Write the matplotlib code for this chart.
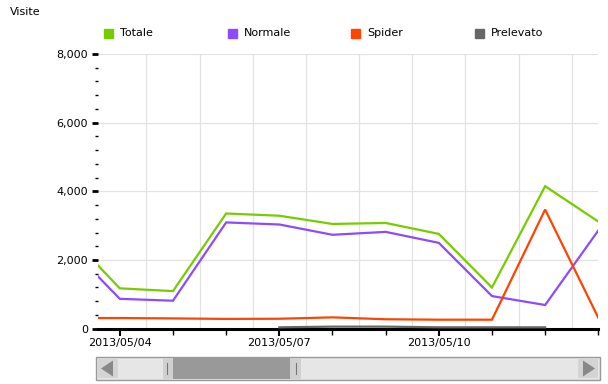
import datetime as dt
import numpy as np
import matplotlib
matplotlib.use("Agg")
import matplotlib.pyplot as plt
import matplotlib.dates as mdates
from matplotlib.patches import Rectangle, Polygon
from matplotlib.ticker import MultipleLocator, FuncFormatter

plt.rcParams['font.family'] = ['DejaVu Sans']

# ---- data ----
dates = ["2013-05-03", "2013-05-04", "2013-05-05", "2013-05-06", "2013-05-07",
         "2013-05-08", "2013-05-09", "2013-05-10", "2013-05-11", "2013-05-12",
         "2013-05-13"]
totale = [2800, 1175, 1095, 3355, 3290, 3050, 3080, 2760, 1200, 4150, 3120]
normale = [2460, 870, 815, 3095, 3035, 2735, 2820, 2500, 950, 690, 2860]
spider = [310, 310, 300, 285, 290, 330, 275, 262, 262, 3470, 320]
prelevato = [np.nan, np.nan, np.nan, np.nan, 40, 60, 60, 40, 40, 40, np.nan]
series_names = ["Totale", "Normale", "Spider", "Prelevato"]
series_colors = ["#77cc00", "#8c4bff", "#ff4400", "#666666"]
x_labels = ["2013/05/04", "2013/05/07", "2013/05/10"]
y_title = "Visite"

W, H = 608, 384
fig = plt.figure(figsize=(W / 100, H / 100), dpi=100)

# axes in pixel coords
left, right, top, bottom = 97.7, 598.3, 54, 328.7
ax = fig.add_axes([left / W, (H - bottom) / H, (right - left) / W, (bottom - top) / H])

xd = mdates.date2num([dt.datetime.strptime(d, "%Y-%m-%d") for d in dates])
d0 = xd[0]

ax.set_ylim(0, 8000)
ax.set_xlim(d0 + 0.584, d0 + 9.913)

# gridlines
for yv in range(2000, 8001, 2000):
    ax.axhline(yv, color="#e2e2e2", lw=0.9, zorder=0)
for k in range(1, 11):
    ax.axvline(d0 + k + 0.5, color="#e2e2e2", lw=0.9, zorder=0)

series = [totale, normale, spider, prelevato]
for vals, c in zip(series, series_colors):
    ax.plot(xd, vals, color=c, lw=1.6, zorder=3, solid_joinstyle="miter")

# axes styling
for s in ["top", "right", "left"]:
    ax.spines[s].set_visible(False)
ax.spines["bottom"].set_linewidth(2.2)
ax.spines["bottom"].set_color("black")

ax.yaxis.set_major_locator(MultipleLocator(2000))
ax.yaxis.set_minor_locator(MultipleLocator(400))
ax.yaxis.set_major_formatter(FuncFormatter(lambda v, p: f"{int(v):,}"))
ax.tick_params(axis="y", which="major", length=4, width=2, color="black",
               labelsize=8, pad=3, direction="out")
ax.tick_params(axis="y", which="minor", length=2, width=1, color="black")

label_dates = mdates.date2num([dt.datetime.strptime(s, "%Y/%m/%d") for s in x_labels])
ax.set_xticks(label_dates)
ax.set_xticklabels(x_labels)
ax.set_xticks(xd[1:], minor=True)
ax.tick_params(axis="x", which="major", length=5, width=1.5, color="black",
               labelsize=8, pad=2)
ax.tick_params(axis="x", which="minor", length=4, width=1, color="black")

# title and legend
fig.text(10 / W, 1 - 12 / H, y_title, fontsize=8, va="center", ha="left")
leg_x = [104, 228, 351, 475]
leg_y = 33
for lx, name, c in zip(leg_x, series_names, series_colors):
    fig.patches.append(Rectangle(((lx) / W, 1 - (leg_y + 5) / H), 9 / W, 9 / H,
                                 transform=fig.transFigure, color=c))
    fig.text((lx + 16) / W, 1 - leg_y / H, name, fontsize=8, va="center", ha="left")

# scrollbar
sb = fig.add_axes([0, 0, 1, 1], zorder=-1)
sb.set_xlim(0, W)
sb.set_ylim(H, 0)
sb.axis("off")
sb.add_patch(Rectangle((96, 357), 504, 23, facecolor="#e6e6e6", edgecolor="#999999", lw=1))
sb.add_patch(Rectangle((98, 359), 20, 19, facecolor="#d4d4d4", edgecolor="none"))
sb.add_patch(Polygon([[101, 368.5], [113, 360.5], [113, 376.5]], closed=True, facecolor="#888888"))
sb.add_patch(Rectangle((578, 359), 20, 19, facecolor="#d4d4d4", edgecolor="none"))
sb.add_patch(Polygon([[595, 368.5], [583, 360.5], [583, 376.5]], closed=True, facecolor="#888888"))
sb.add_patch(Rectangle((163, 358), 138, 21, facecolor="#d0d0d0", edgecolor="none"))
sb.add_patch(Rectangle((173, 358), 117, 21, facecolor="#999999", edgecolor="none"))
sb.plot([167, 167], [363, 374], color="#777777", lw=0.8)
sb.plot([296, 296], [363, 374], color="#777777", lw=0.8)

fig.savefig("out.png", dpi=100, facecolor="white")
